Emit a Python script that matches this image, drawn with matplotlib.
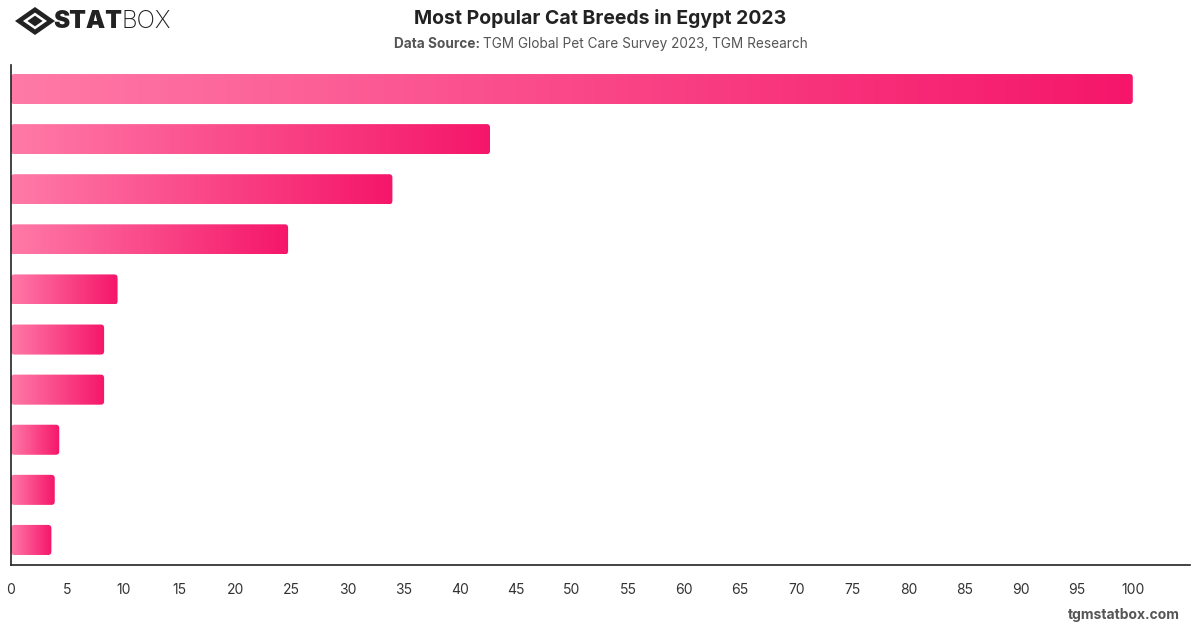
import matplotlib.pyplot as plt
import numpy as np
from matplotlib.colors import LinearSegmentedColormap
from matplotlib.patches import FancyBboxPatch, Polygon

plt.rcParams['font.family'] = ['Inter', 'DejaVu Sans']

# values (category labels are not shown in the chart)
values = [100, 42.7, 34.0, 24.7, 9.5, 8.3, 8.3, 4.3, 3.9, 3.6]
xticks = list(range(0, 105, 5))

title = "Most Popular Cat Breeds in Egypt 2023"
source_bold = "Data Source:"
source_text = "TGM Global Pet Care Survey 2023, TGM Research"

fig = plt.figure(figsize=(12, 6.28), dpi=100)
ax = fig.add_axes([11 / 1200, 1 - 565 / 628, 1179 / 1200, 500 / 628])

cmap = LinearSegmentedColormap.from_list("pink", ["#ff7aa7", "#f5166a"])
grad = np.linspace(0, 1, 256).reshape(1, -1)

n = len(values)
xmax = 105.1
ylo, yhi = n - 0.5, -0.48

# aspect between y and x data units per pixel
px_x = 1179 / xmax
px_y = 500 / (ylo - yhi)
h = 0.6
for i, v in enumerate(values):
    box = FancyBboxPatch((0, i - h / 2), v, h,
                         boxstyle="round,pad=0,rounding_size=0.3",
                         mutation_aspect=px_x / px_y,
                         facecolor="none", edgecolor="none")
    ax.add_patch(box)
    im = ax.imshow(grad, cmap=cmap, aspect="auto",
                   extent=[0, v, i + h / 2, i - h / 2], zorder=2)
    im.set_clip_path(box)

ax.set_xlim(0, xmax)
ax.set_ylim(ylo, yhi)
ax.set_yticks([])
ax.set_xticks(xticks)
ax.tick_params(axis="x", length=0, pad=13, labelsize=10, labelcolor="#333333")
for s in ["top", "right"]:
    ax.spines[s].set_visible(False)
ax.spines["left"].set_color("#222222")
ax.spines["bottom"].set_color("#222222")
ax.spines["left"].set_linewidth(1.2)
ax.spines["bottom"].set_linewidth(1.2)

# titles
fig.text(0.5, 1 - 18 / 628, title, ha="center", va="center",
         fontsize=14, fontweight="bold", color="#222222")
fs = 9.8
t1 = fig.text(0.5, 1 - 44 / 628, source_bold + " " + source_text, ha="center",
              va="center", fontsize=fs, color="#555555", alpha=0)
fig.canvas.draw()
bb = t1.get_window_extent()
x0 = bb.x0 / 1200
tb = fig.text(x0, 1 - 44 / 628, source_bold + " ", ha="left", va="center",
              fontsize=fs, fontweight="bold", color="#555555")
fig.canvas.draw()
bb2 = tb.get_window_extent()
fig.text(bb2.x1 / 1200, 1 - 44 / 628, source_text, ha="left", va="center",
         fontsize=fs, color="#555555")

# logo
cx, cy = 35 / 1200, 1 - 21 / 628
sx, sy = 20 / 1200, 14 / 628
outer = Polygon([[cx - sx, cy], [cx, cy + sy], [cx + sx, cy], [cx, cy - sy]],
                closed=True, facecolor="#222222", edgecolor="none",
                transform=fig.transFigure)
inner = Polygon([[cx - sx * 0.6, cy], [cx, cy + sy * 0.6], [cx + sx * 0.6, cy],
                 [cx, cy - sy * 0.6]], closed=True, facecolor="white",
                edgecolor="none", transform=fig.transFigure)
core = Polygon([[cx - sx * 0.38, cy], [cx, cy + sy * 0.38], [cx + sx * 0.38, cy],
                [cx, cy - sy * 0.38]], closed=True, facecolor="#222222",
               edgecolor="none", transform=fig.transFigure)
fig.patches.extend([outer, inner, core])
ts = fig.text(53 / 1200, cy, "STAT", ha="left", va="center", fontsize=17.5,
              fontweight="black", color="#222222")
fig.canvas.draw()
b3 = ts.get_window_extent()
fig.text(b3.x1 / 1200, cy, "BOX", ha="left", va="center", fontsize=17.5,
         fontweight="light", color="#222222")

fig.text(1180 / 1200, 1 - 615 / 628, "tgmstatbox.com", ha="right", va="center",
         fontsize=10, fontweight="bold", color="#555555")

fig.savefig("out.png", dpi=100, facecolor="white")
